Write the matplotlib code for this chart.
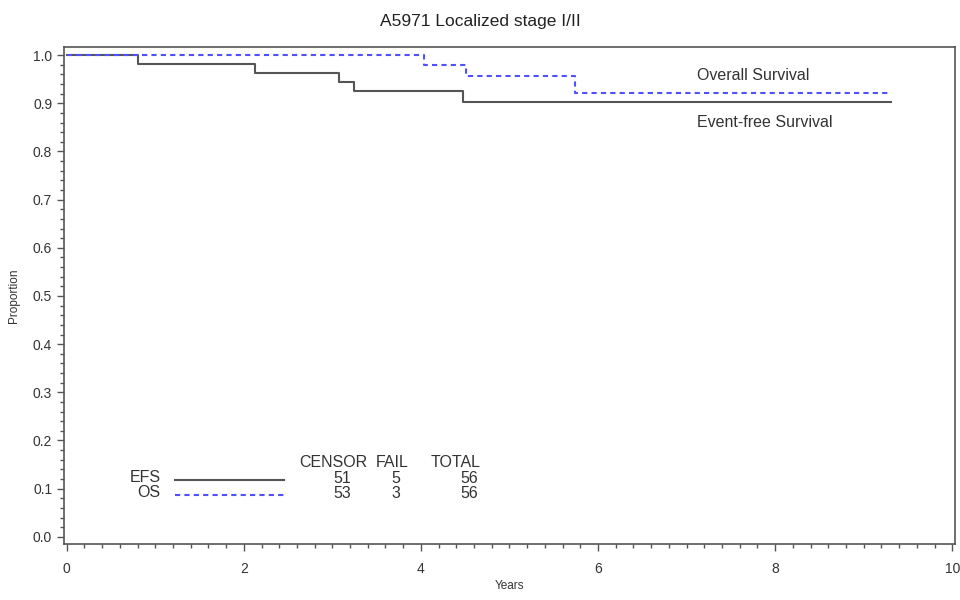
import matplotlib
matplotlib.use("Agg")
import numpy as np
from matplotlib import pyplot as plt
from matplotlib.ticker import MultipleLocator, FormatStrFormatter

plt.rcParams['font.family'] = ['Liberation Sans', 'DejaVu Sans']

# Kaplan-Meier step data
efs_times = [0, 0.81, 2.13, 3.07, 3.25, 4.48, 9.31]
efs_surv = [1.0, 0.982, 0.963, 0.944, 0.925, 0.903, 0.903]
os_times = [0, 4.04, 4.51, 5.74, 9.29]
os_surv = [1.0, 0.980, 0.956, 0.922, 0.922]

table_cols = ["CENSOR", "FAIL", "TOTAL"]
table_rows = ["EFS", "OS"]
censor = [51, 53]
fail = [5, 3]
total = [56, 56]

efs_col = "#555555"
os_col = "#5050ff"
txt_col = "#333333"

fig = plt.figure(figsize=(9.6, 6), dpi=100)
ax = fig.add_axes([0.0667, 0.0933, 0.928, 0.8284])

ax.step(efs_times, efs_surv, where="post", color=efs_col, lw=1.5)
ax.step(os_times, os_surv, where="post", color=os_col, lw=1.5, ls=(0, (2.5, 2)))

ax.text(7.12, 0.958, "Overall Survival", color=txt_col, fontsize=11.5, va="center")
ax.text(7.12, 0.861, "Event-free Survival", color=txt_col, fontsize=11.5, va="center")

# legend table
col_x = [3.40, 3.86, 4.67]
for cx, name in zip(col_x, table_cols):
    ax.text(cx, 0.154, name, ha="right", va="center", fontsize=11.5, color=txt_col)
row_y = [0.118, 0.087]
styles = [dict(color=efs_col, lw=1.5, ls="-"), dict(color=os_col, lw=1.5, ls=(0, (2.5, 2)))]
for i, (ry, name) in enumerate(zip(row_y, table_rows)):
    ax.text(1.06, ry + 0.005, name, ha="right", va="center", fontsize=11.5, color=txt_col)
    ax.plot([1.22, 2.45], [ry, ry], **styles[i])
    vals = [censor[i], fail[i], total[i]]
    for cx, v in zip([3.21, 3.77, 4.65], vals):
        ax.text(cx, ry + 0.003, str(v), ha="right", va="center", fontsize=11.5, color=txt_col)

ax.set_xlim(-0.03, 10.03)
ax.set_ylim(-0.015, 1.017)
ax.xaxis.set_major_locator(MultipleLocator(2))
ax.xaxis.set_minor_locator(MultipleLocator(0.2))
ax.yaxis.set_major_locator(MultipleLocator(0.1))
ax.yaxis.set_minor_locator(MultipleLocator(0.02))
ax.yaxis.set_major_formatter(FormatStrFormatter("%.1f"))
ax.tick_params(which="major", length=5, width=1, colors="#555555", labelcolor=txt_col, labelsize=10)
ax.tick_params(which="minor", length=3, width=1, colors="#555555")
ax.tick_params(axis="x", pad=8)
for s in ax.spines.values():
    s.set_color("#555555")
    s.set_linewidth(1.2)

ax.set_xlabel("Years", fontsize=8.5, color=txt_col, labelpad=3)
ax.set_ylabel("Proportion", fontsize=8.5, color=txt_col, labelpad=9)
fig.suptitle("A5971 Localized stage I/II", fontsize=12.5, color="#222222", y=0.977)

fig.savefig("out.png", dpi=100)
